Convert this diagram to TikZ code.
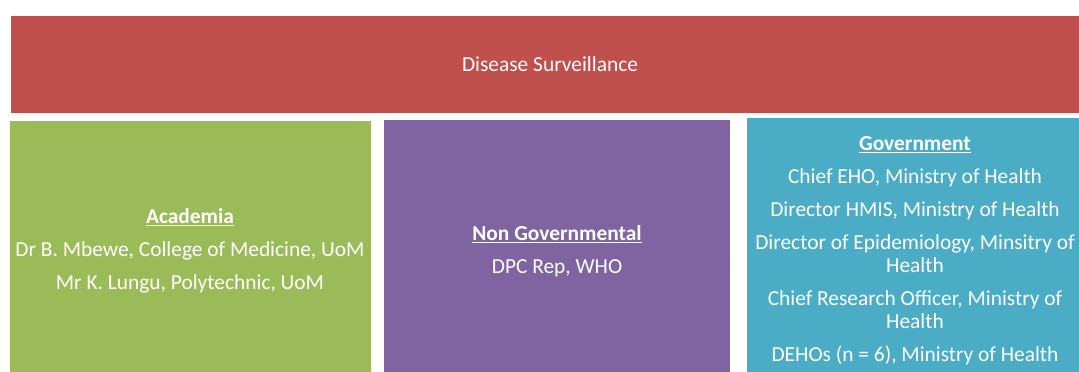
\documentclass[tikz,border=0pt]{standalone}
\usepackage{fontspec}
\setmainfont{Carlito}
\definecolor{dsred}{HTML}{C0504D}
\definecolor{dsgreen}{HTML}{9BBB59}
\definecolor{dspurple}{HTML}{8064A2}
\definecolor{dscyan}{HTML}{4BACC6}
\begin{document}
\begin{tikzpicture}[x=1pt,y=-1pt,
  box/.style={draw=none, inner sep=0pt, outer sep=0pt},
  txt/.style={text=white, align=center, inner sep=0pt, font=\fontsize{21.4}{23}\selectfont}]
\useasboundingbox (0,0) rectangle (1079,372);
\begin{scope}
\clip (0,0) rectangle (1079,372);
\fill[dsred]    (11,16) rectangle (1085,113);
\node[box] (red) at (545,64.5) {};
\fill[dsgreen]  (10,121) rectangle (371,380);
\node[box] (green) at (190,246) {};
\fill[dspurple] (384,120) rectangle (730,380);
\node[box] (purple) at (557,246) {};
\fill[dscyan]   (747,118) rectangle (1085,380);
\node[box] (cyan) at (913,245) {};
\end{scope}
\node[txt] (tred) at (550,64) {Disease Surveillance};
\node[txt] (tgreen) at (190,251) {\underline{\textbf{Academia}}\\[10pt]Dr B. Mbewe, College of Medicine, UoM\\[10pt]Mr K. Lungu, Polytechnic, UoM};
\node[txt] (tpurple) at (557,251) {\underline{\textbf{Non Governmental}}\\[10pt]DPC Rep, WHO};
\node[txt] (tcyan) at (915,250.5) {\underline{\textbf{Government}}\\[10pt]Chief EHO, Ministry of Health\\[10pt]Director HMIS, Ministry of Health\\[10pt]Director of Epidemiology, Minsitry of\\Health\\[10pt]Chief Research Officer, Ministry of\\Health\\[10pt]DEHOs (n = 6), Ministry of Health};
\end{tikzpicture}
\end{document}
